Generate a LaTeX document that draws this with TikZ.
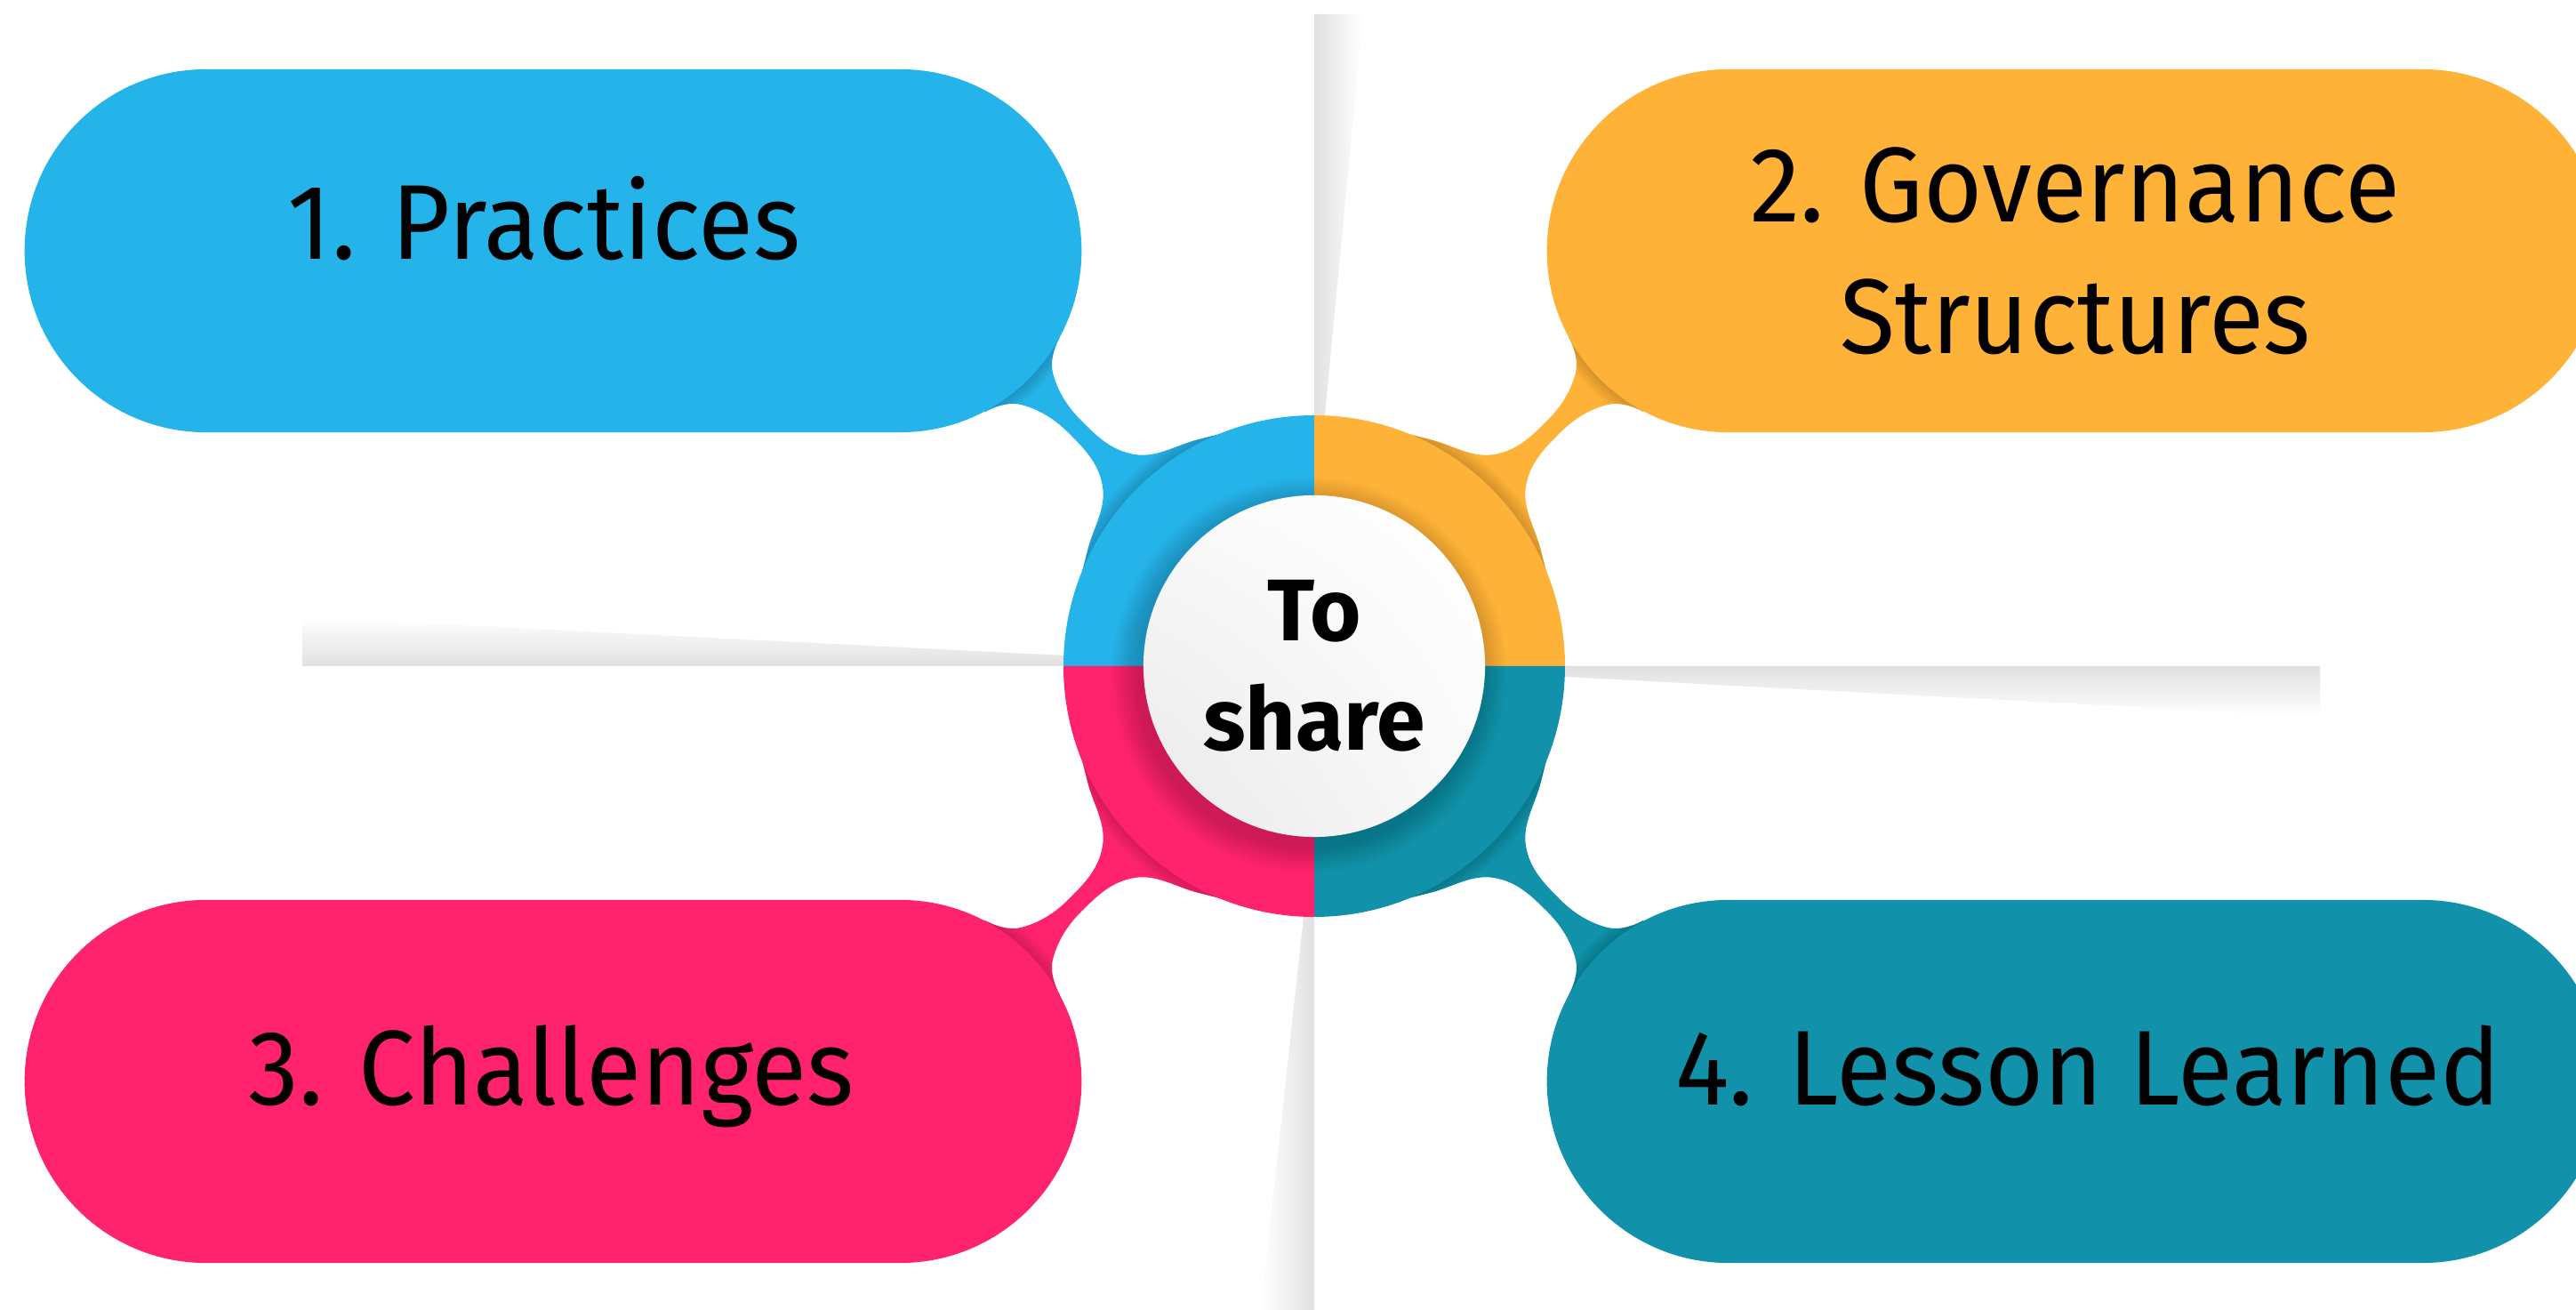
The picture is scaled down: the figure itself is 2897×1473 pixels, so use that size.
\documentclass[tikz,border=0pt]{standalone}
\usepackage{fontspec}
\usepackage{xcolor}
\usepackage{tikz}
\usetikzlibrary{shapes.misc,shadings,positioning}
\setmainfont{Fira Sans}
\newfontfamily\pillfont[FakeStretch=0.95]{Fira Sans}
\definecolor{practiceblue}{RGB}{37,180,233}
\definecolor{governorange}{RGB}{254,179,56}
\definecolor{challengepink}{RGB}{255,35,110}
\definecolor{lessonteal}{RGB}{17,146,170}

% neck between the hub ring and the upper left pill (other quadrants are mirrored)
\newcommand{\neckpath}{plot[smooth, tension=0.7] coordinates {(-370,-286) (-330,-294) (-276,-262) (-238,-202) (-255,-130) (-270,-72)} -- (-150,-150) -- plot[smooth, tension=0.7] coordinates {(-72,-270) (-130,-255) (-202,-238) (-262,-276) (-294,-330) (-286,-370)} -- (-466,-467) -- cycle}
\newcommand{\drawneck}[1]{%
    \fill[#1] \neckpath;
    \begin{scope}
        \clip \neckpath;
        \foreach \r in {1,...,8} {
            \fill[black, opacity=0.02] (-466,-467) circle[radius=204+2*\r];
            \fill[black, opacity=0.02] (0,0) circle[radius=282+2*\r];
        }
    \end{scope}}

\begin{document}
\begin{tikzpicture}[x=0.01cm, y=-0.01cm]
    \tikzstyle{pill} = [rounded rectangle, minimum width=11.88cm, minimum height=4.08cm, inner sep=0pt]
    \tikzstyle{pilltext} = [font=\pillfont\fontsize{34}{42}\selectfont, text=black, align=center]
    \tikzstyle{hub} = [circle, minimum size=3.84cm, inner sep=0pt, upper left=black!2, upper right=white, lower left=black!9, lower right=black!2, font=\bfseries\fontsize{28}{35}\selectfont, align=center]

    \useasboundingbox (-1478,-749) rectangle (1419,724);
    \clip (-1478,-749) rectangle (1419,724);
    \fill[white] (-1478,-749) rectangle (1419,724);

    % Divider bars
    \shade[left color=black!12, right color=white] (0,-733) -- (55,-733) -- (12,-282) -- (0,-282) -- cycle;
    \shade[left color=white, right color=black!12] (0,282) -- (0,724) -- (-60,724) -- (-12,282) -- cycle;
    \shade[top color=white, bottom color=black!12] (-1138,0) -- (-1138,-55) -- (-282,-12) -- (-282,0) -- cycle;
    \shade[top color=black!12, bottom color=white] (282,0) -- (1131,0) -- (1131,57) -- (282,12) -- cycle;

    % Necks
    \drawneck{practiceblue}
    \begin{scope}[xscale=-1]
        \drawneck{governorange}
    \end{scope}
    \begin{scope}[yscale=-1]
        \drawneck{challengepink}
    \end{scope}
    \begin{scope}[xscale=-1, yscale=-1]
        \drawneck{lessonteal}
    \end{scope}

    % Pills
    \node[pill, fill=practiceblue] (practices) at (-856,-467) {};
    \node[pill, fill=governorange] (governance) at (856,-467) {};
    \node[pill, fill=challengepink] (challenges) at (-856,467) {};
    \node[pill, fill=lessonteal] (lessons) at (856,467) {};

    % Hub ring
    \foreach \col/\a in {practiceblue/180, governorange/270, lessonteal/0, challengepink/90}
        \fill[\col] (0,0) -- (\a:282) arc[start angle=\a, end angle=\a+90, radius=282] -- cycle;
    \foreach \r in {1,...,10}
        \fill[black, opacity=0.018] (-6,10) circle[radius=192+3*\r];
    \node[hub] (hub) at (0,0) {To\\share};

    % Labels
    \node[pilltext, anchor=base] (practicestext) at (-866,-457) {1. Practices};
    \node[pilltext] (governancetext) at (governance.center) {2. Governance\\Structures};
    \node[pilltext, anchor=base] (challengestext) at (-858,493) {3. Challenges};
    \node[pilltext, anchor=base] (lessonstext) at (870,493) {4. Lesson Learned};
\end{tikzpicture}
\end{document}
